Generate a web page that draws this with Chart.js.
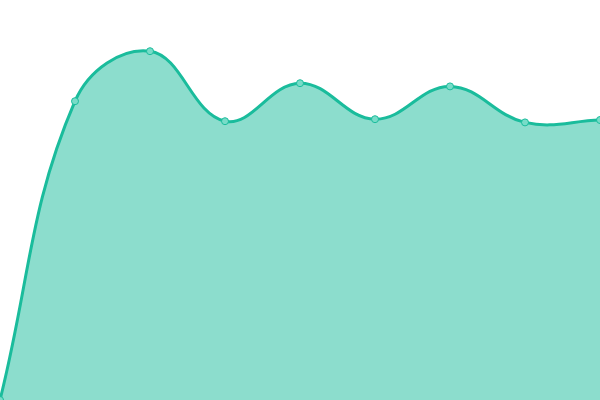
<!DOCTYPE html>
<html>
<head>
<meta charset="utf-8">
<script src="https://cdn.jsdelivr.net/npm/chart.js@4/dist/chart.umd.min.js"></script>
<style>
  html, body { margin: 0; padding: 0; background: #fff; }
  #wrap { width: 600px; height: 400px; }
</style>
</head>
<body>
<div id="wrap"><canvas id="chart" width="600" height="400"></canvas></div>
<script>
// values (y axis 0..100, axes hidden)
const labels = ['1', '2', '3', '4', '5', '6', '7', '8', '9'];
const values = [0, 74.7, 87.2, 69.7, 79.2, 70.2, 78.4, 69.4, 70];

const lineColor = '#1abc9c';
const fillColor = 'rgba(26, 188, 156, 0.5)';

const ctx = document.getElementById('chart').getContext('2d');
new Chart(ctx, {
    type: 'line',
    data: {
        labels: labels,
        datasets: [{
            data: values,
            borderColor: lineColor,
            backgroundColor: fillColor,
            borderWidth: 3,
            fill: true,
            tension: 0.4,
            pointRadius: 3.5,
            pointBorderWidth: 1,
            pointBackgroundColor: 'rgba(120, 220, 200, 1)',
            pointBorderColor: lineColor
        }]
    },
    options: {
        responsive: false,
        animation: false,
        layout: { padding: 0, autoPadding: false },
        plugins: { legend: { display: false }, tooltip: { enabled: false } },
        scales: {
            x: { display: false },
            y: { display: false, min: 0, max: 100 }
        }
    }
});
</script>
</body>
</html>
